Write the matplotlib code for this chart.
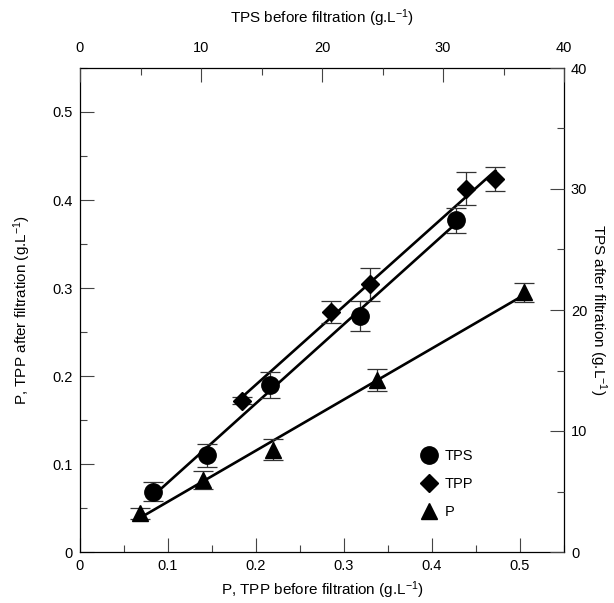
import numpy as np
import matplotlib
matplotlib.use("Agg")
import matplotlib.pyplot as plt
from matplotlib.lines import Line2D
from matplotlib.ticker import MultipleLocator

plt.rcParams["font.family"] = ["Liberation Sans", "DejaVu Sans"]
plt.rcParams["mathtext.fontset"] = "custom"
plt.rcParams["mathtext.rm"] = "Liberation Sans"
plt.rcParams["mathtext.it"] = "Liberation Sans:italic"

# P and TPP (g/L) before / after filtration
p_before = [0.068, 0.140, 0.2195, 0.337, 0.5045]
p_after = [0.044, 0.082, 0.116, 0.1955, 0.295]
p_err = [0.006, 0.010, 0.012, 0.012, 0.011]

tpp_before = [0.1845, 0.285, 0.330, 0.439, 0.472]
tpp_after = [0.172, 0.273, 0.304, 0.413, 0.424]
tpp_err = [0.004, 0.0125, 0.019, 0.019, 0.014]

# TPS (g/L) before / after filtration
tps_before = [6.0, 10.5, 15.7, 23.1, 31.05]
tps_after = [5.0, 8.0, 13.8, 19.5, 27.4]
tps_err = [0.75, 0.95, 1.05, 1.25, 1.0]

fig = plt.figure(figsize=(6.14, 6.03), dpi=100)
pos = [80 / 614, 1 - 552 / 603, 484 / 614, 484 / 603]
ax = fig.add_axes(pos)
ax_t = fig.add_axes(pos, label="tps", frameon=False)

lw = 1.9
err_kw = dict(ecolor="#333333", elinewidth=0.9, capsize=7, capthick=0.9, linestyle="none")


def fit_line(axis, x, y):
    k, b = np.polyfit(x, y, 1)
    xs = np.array([min(x), max(x)])
    axis.plot(xs, k * xs + b, color="black", lw=lw, zorder=2)


fit_line(ax, tpp_before, tpp_after)
fit_line(ax, p_before, p_after)
fit_line(ax_t, tps_before, tps_after)

ms_circle, ms_diamond, ms_tri = 12.5, 9, 11.5
ax.errorbar(p_before, p_after, yerr=p_err, marker="^", ms=ms_tri, mfc="black",
            mec="black", zorder=3, **err_kw)
ax.errorbar(tpp_before, tpp_after, yerr=tpp_err, marker="D", ms=ms_diamond,
            mfc="black", mec="black", zorder=3, **err_kw)
ax_t.errorbar(tps_before, tps_after, yerr=tps_err, marker="o", ms=ms_circle,
              mfc="black", mec="black", zorder=3, **err_kw)

ax.set_xlim(0, 0.55)
ax.set_ylim(0, 0.55)
ax_t.set_xlim(0, 40)
ax_t.set_ylim(0, 40)

fs = 10.5
lfs = 11
ax.xaxis.set_major_locator(MultipleLocator(0.1))
ax.xaxis.set_minor_locator(MultipleLocator(0.05))
ax.yaxis.set_major_locator(MultipleLocator(0.1))
ax.yaxis.set_minor_locator(MultipleLocator(0.05))
ax_t.xaxis.set_major_locator(MultipleLocator(10))
ax_t.xaxis.set_minor_locator(MultipleLocator(5))
ax_t.yaxis.set_major_locator(MultipleLocator(10))
ax_t.yaxis.set_minor_locator(MultipleLocator(5))

fmt = lambda v, _: "0" if abs(v) < 1e-9 else f"{v:g}"
ax.xaxis.set_major_formatter(fmt)
ax.yaxis.set_major_formatter(fmt)

ax.tick_params(which="both", direction="in", top=False, right=False,
               labelsize=fs, width=0.8, color="#444444")
ax.tick_params(which="major", length=10, pad=5)
ax.tick_params(which="minor", length=5)

ax_t.xaxis.tick_top()
ax_t.yaxis.tick_right()
ax_t.xaxis.set_label_position("top")
ax_t.yaxis.set_label_position("right")
ax_t.tick_params(which="both", direction="in", labelsize=fs, width=0.8, color="#444444")
ax_t.tick_params(which="major", length=10, pad=5)
ax_t.tick_params(axis="x", which="major", pad=9)
ax_t.tick_params(which="minor", length=5)

for s in ax.spines.values():
    s.set_linewidth(0.9)

unit = r" (g.L$^{-1}$)"
ax.set_xlabel("P, TPP before filtration" + unit, fontsize=lfs, labelpad=5)
ax.set_ylabel("P, TPP after filtration" + unit, fontsize=lfs, labelpad=14)
ax_t.set_xlabel("TPS before filtration" + unit, fontsize=lfs, labelpad=13)
ax_t.set_ylabel("TPS after filtration" + unit, fontsize=lfs, rotation=270,
                labelpad=15)

handles = [
    Line2D([], [], ls="none", marker="o", ms=ms_circle, color="black"),
    Line2D([], [], ls="none", marker="D", ms=ms_diamond, color="black"),
    Line2D([], [], ls="none", marker="^", ms=ms_tri, color="black"),
]
ax_t.legend(handles, ["TPS", "TPP", "P"], loc="upper left",
            bbox_to_anchor=(0.69, 0.225), frameon=False, fontsize=fs,
            handlelength=1.2, handletextpad=0.5, labelspacing=0.95,
            borderaxespad=0)

fig.savefig("out.png", dpi=100)
